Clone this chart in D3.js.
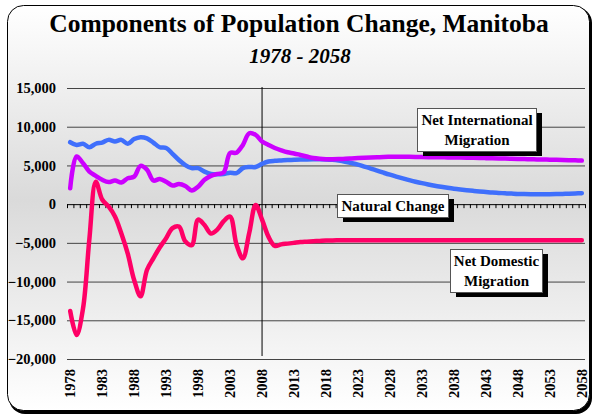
<!DOCTYPE html>
<html>
<head>
<meta charset="utf-8">
<script src="https://cdn.jsdelivr.net/npm/d3@7"></script>
<style>
  body { margin: 0; background: #fff; }
  svg { display: block; }
  text { font-family: "Liberation Serif", "Times New Roman", serif; font-weight: bold; fill: #000; }
</style>
</head>
<body>
<div id="chart"></div>
<script>
// categories: one point per year
const years = d3.range(1978, 2059);
const yearLabels = [1978, 1983, 1988, 1993, 1998, 2003, 2008, 2013, 2018, 2023,
  2028, 2033, 2038, 2043, 2048, 2053, 2058];
const yTicks = [-20000, -15000, -10000, -5000, 0, 5000, 10000, 15000];

// series values
const naturalChange = [
  8000, 7650, 7800, 7350, 7800, 7950, 8300, 8100, 8300, 7800,
  8400, 8650, 8500, 7950, 7350, 7250, 6500, 5700, 5050, 4650,
  4650, 4200, 3900, 3850, 3900, 4050, 4000, 4650, 4800, 4800,
  5200, 5500, 5600, 5650, 5700, 5720, 5750, 5780, 5800, 5800,
  5780, 5720, 5620, 5480, 5300, 5100, 4850, 4600, 4330, 4060,
  3800, 3560, 3330, 3110, 2900, 2710, 2540, 2380, 2240, 2110,
  1990, 1890, 1800, 1720, 1640, 1570, 1500, 1450, 1400, 1360,
  1320, 1300, 1290, 1280, 1280, 1290, 1300, 1320, 1350, 1380,
  1420
];
const netInternational = [
  2050, 6150, 5300, 4200, 3650, 3150, 2850, 3050, 2800, 3350,
  3550, 4950, 4450, 3050, 3250, 2900, 2400, 2600, 2350, 1750,
  2250, 3150, 3650, 3900, 4100, 6600, 6650, 7650, 9150, 8950,
  8100, 7650, 7250, 6950, 6700, 6550, 6350, 6150, 5950, 5850,
  5800, 5800, 5820, 5860, 5900, 5950, 5990, 6030, 6060, 6090,
  6110, 6120, 6120, 6110, 6100, 6080, 6070, 6060, 6050, 6040,
  6030, 6010, 6000, 5980, 5960, 5940, 5920, 5900, 5880, 5860,
  5840, 5820, 5800, 5780, 5760, 5740, 5720, 5700, 5680, 5660,
  5630
];
const netDomestic = [
  -13800, -16900, -13500, -4500, 2900, 600, -300, -1600, -3800, -6400,
  -9800, -11900, -8500, -7000, -5600, -4400, -3100, -2900, -4800, -5300,
  -2000, -2700, -3800, -3300, -2200, -1600, -5200, -7000, -3700, -100,
  -2000, -4200, -5400, -5200, -5100, -5000, -4900, -4850, -4800, -4750,
  -4700, -4680, -4660, -4650, -4650, -4650, -4650, -4650, -4650, -4650,
  -4650, -4650, -4650, -4650, -4650, -4650, -4650, -4650, -4650, -4650,
  -4650, -4650, -4650, -4650, -4650, -4650, -4650, -4650, -4650, -4650,
  -4650, -4650, -4650, -4650, -4650, -4650, -4650, -4650, -4650, -4650,
  -4650
];

const series = [
  { name: "Natural Change", values: naturalChange, color: "#3f6ffc" },
  { name: "Net International Migration", values: netInternational, color: "#cc00ff" },
  { name: "Net Domestic Migration", values: netDomestic, color: "#ff0066" }
];

const width = 595, height = 416;
const plot = { left: 67, right: 585, top: 88, bottom: 359 };
const serif = "'Liberation Serif', 'Times New Roman', serif";

const svg = d3.select("#chart").append("svg")
  .attr("width", width)
  .attr("height", height)
  .attr("font-family", serif);

// background gradient
const grad = svg.append("defs").append("linearGradient")
  .attr("id", "bg").attr("x1", 0).attr("y1", 0).attr("x2", 0).attr("y2", 1);
grad.append("stop").attr("offset", "0%").attr("stop-color", "#ffffff");
grad.append("stop").attr("offset", "48%").attr("stop-color", "#dadada");
grad.append("stop").attr("offset", "100%").attr("stop-color", "#ffffff");

// frame with shadow
svg.append("rect")
  .attr("x", 9).attr("y", 7).attr("width", 583).attr("height", 407)
  .attr("rx", 16).attr("fill", "#000");
svg.append("rect")
  .attr("x", 7.5).attr("y", 5.5).attr("width", 582).attr("height", 405)
  .attr("rx", 16).attr("fill", "url(#bg)").attr("stroke", "#000");

// titles
svg.append("text")
  .attr("x", 299).attr("y", 32)
  .attr("text-anchor", "middle")
  .style("font-size", "25.5px")
  .text("Components of Population Change, Manitoba");
svg.append("text")
  .attr("x", 300).attr("y", 63)
  .attr("text-anchor", "middle")
  .style("font-size", "21px")
  .style("font-style", "italic")
  .text("1978 - 2058");

const x = d3.scaleBand()
  .domain(years)
  .range([plot.left, plot.right]);
const xc = d => x(d) + x.bandwidth() / 2;

const y = d3.scaleLinear()
  .domain([-20000, 15000])
  .range([plot.bottom, plot.top]);

// y axis with grid lines
const yAxis = svg.append("g")
  .attr("transform", "translate(" + plot.left + ",0)")
  .call(d3.axisLeft(y)
    .tickValues(yTicks)
    .tickSize(-(plot.right - plot.left))
    .tickPadding(11)
    .tickFormat(d3.format(",")));
yAxis.attr("font-family", serif).attr("font-size", null);
yAxis.select(".domain").remove();
yAxis.selectAll("line")
  .attr("stroke", d => d === 0 ? "#000" : "#444");
yAxis.selectAll("text")
  .style("font-size", "14.5px")
  .style("font-family", serif)
  .style("font-weight", "bold");

// tick marks on the zero line, between categories
const tickScale = d3.scaleLinear().domain([0, years.length]).range([plot.left, plot.right]);
svg.append("g")
  .attr("transform", "translate(0," + y(0) + ")")
  .call(d3.axisBottom(tickScale)
    .tickValues(d3.range(years.length + 1))
    .tickSize(4)
    .tickFormat(""))
  .call(g => g.select(".domain").remove())
  .selectAll("line").attr("stroke", "#000");

// x labels, rotated
svg.append("g")
  .selectAll("text")
  .data(yearLabels)
  .join("text")
  .attr("transform", d => "translate(" + (xc(d) + 5) + "," + (plot.bottom + 10) + ") rotate(-90)")
  .attr("text-anchor", "end")
  .style("font-size", "14.5px")
  .text(d => d);

// 2008 divider
svg.append("line")
  .attr("x1", xc(2008)).attr("x2", xc(2008))
  .attr("y1", plot.top - 1).attr("y2", plot.bottom - 3)
  .attr("stroke", "#000").attr("stroke-width", 1);

// series lines
const line = d3.line()
  .x((d, i) => xc(years[i]))
  .y(d => y(d))
  .curve(d3.curveCatmullRom.alpha(0.5));

svg.append("g")
  .selectAll("path")
  .data(series)
  .join("path")
  .attr("d", d => line(d.values))
  .attr("fill", "none")
  .attr("stroke", d => d.color)
  .attr("stroke-width", 4.5)
  .attr("stroke-linecap", "round")
  .attr("stroke-linejoin", "round");

// boxed labels
const labels = [
  { lines: ["Net International", "Migration"], x: 417, y: 108, w: 119, h: 43 },
  { lines: ["Natural Change"], x: 337, y: 194, w: 111, h: 23 },
  { lines: ["Net Domestic", "Migration"], x: 450, y: 249, w: 92, h: 43 }
];

const lab = svg.append("g")
  .selectAll("g")
  .data(labels)
  .join("g")
  .attr("transform", d => "translate(" + d.x + "," + d.y + ")");
lab.append("rect")
  .attr("x", 6).attr("y", 5)
  .attr("width", d => d.w).attr("height", d => d.h)
  .attr("fill", "#000");
lab.append("rect")
  .attr("x", 0.5).attr("y", 0.5)
  .attr("width", d => d.w).attr("height", d => d.h)
  .attr("fill", "#fff").attr("stroke", "#555");
lab.each(function(d) {
  const g = d3.select(this);
  d.lines.forEach((t, i) => {
    g.append("text")
      .attr("x", d.w / 2 + 0.5)
      .attr("y", (d.lines.length === 1 ? 16.5 : 16.5 + i * 20))
      .attr("text-anchor", "middle")
      .style("font-size", "15px")
      .text(t);
  });
});
</script>
</body>
</html>
